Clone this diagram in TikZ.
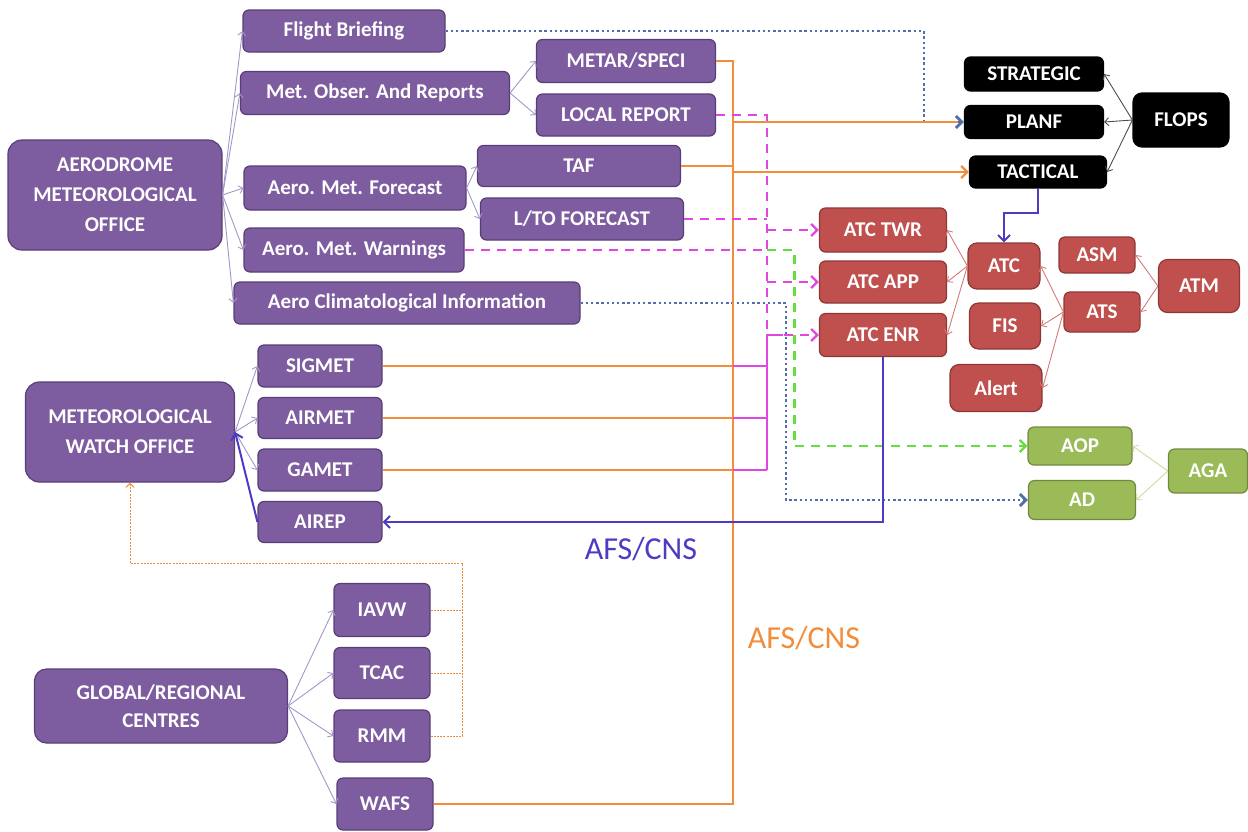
\documentclass[tikz,border=0pt]{standalone}
\usepackage{fontspec}
\setmainfont{Carlito}
\usepackage{tikz}
\usetikzlibrary{arrows.meta}

\definecolor{metfill}{RGB}{126,92,160}
\definecolor{metline}{RGB}{88,62,118}
\definecolor{atcfill}{RGB}{192,80,77}
\definecolor{atcline}{RGB}{140,56,54}
\definecolor{agafill}{RGB}{155,187,89}
\definecolor{agaline}{RGB}{113,137,63}
\definecolor{treecol}{RGB}{165,150,200}
\definecolor{atctree}{RGB}{215,120,120}
\definecolor{agatree}{RGB}{200,220,160}
\definecolor{afscol}{RGB}{240,142,62}
\definecolor{magcol}{RGB}{225,70,225}
\definecolor{grcol}{RGB}{100,222,60}
\definecolor{dotcol}{RGB}{80,110,170}
\definecolor{cnscol}{RGB}{75,60,195}

\begin{document}
\begin{tikzpicture}
      [x=1pt, y=-1pt,
        box/.style={rounded corners=6pt, line width=1.2pt, text=white, align=center,
          inner sep=0pt, font=\fontsize{21}{30}\selectfont\bfseries},
        metbox/.style={box, fill=metfill, draw=metline},
        atcbox/.style={box, fill=atcfill, draw=atcline},
        agabox/.style={box, fill=agafill, draw=agaline},
        flopbox/.style={box, fill=black, draw=black},
        tree/.style={-{Straight Barb[length=4pt,width=8pt]}, line width=0.9pt, draw=treecol},
        atctree/.style={tree, draw=atctree},
        agatree/.style={tree, draw=agatree},
        floptree/.style={tree, draw=black!70},
        afs/.style={draw=afscol, line width=2.4pt},
        afsthin/.style={draw=afscol, line width=1.5pt},
        magline/.style={draw=magcol, line width=1.5pt},
        magdash/.style={draw=magcol, line width=2.4pt, dash pattern=on 9pt off 7pt},
        grdash/.style={draw=grcol, line width=2.4pt, dash pattern=on 9pt off 7pt},
        metdot/.style={draw=dotcol, line width=2.8pt, dash pattern=on 2.4pt off 2.8pt},
        gdot/.style={draw=afscol, line width=1pt, dash pattern=on 2pt off 1.2pt},
        cns/.style={draw=cnscol, line width=2pt},
        tip/.style={-{Straight Barb[length=6pt,width=12pt]}}]
      \useasboundingbox (0,0) rectangle (1248,831);

      \node[metbox, rounded corners=14pt, minimum width=214pt, minimum height=110pt] (amo) at (115,195)
        {AERODROME\\METEOROLOGICAL\\OFFICE};
      \node[metbox, minimum width=202pt, minimum height=42pt] (fb) at (344,31) {Flight Briefing};
      \node[metbox, minimum width=269pt, minimum height=43pt] (obs) at (375,93) {Met. Obser. And Reports};
      \node[metbox, minimum width=179pt, minimum height=43pt] (metar) at (626,61) {METAR/SPECI};
      \node[metbox, minimum width=179pt, minimum height=42pt] (lrep) at (626,115) {LOCAL REPORT};
      \node[metbox, minimum width=222pt, minimum height=44pt] (fcst) at (355,188) {Aero. Met. Forecast};
      \node[metbox, minimum width=203pt, minimum height=41pt] (taf) at (579,166) {TAF};
      \node[metbox, minimum width=203pt, minimum height=42pt] (lto) at (582,219) {L/TO FORECAST};
      \node[metbox, minimum width=220pt, minimum height=44pt] (warn) at (354,250) {Aero. Met. Warnings};
      \node[metbox, minimum width=346pt, minimum height=42pt] (clim) at (407,303) {Aero Climatological Information};

      \node[metbox, rounded corners=14pt, minimum width=209pt, minimum height=100pt] (mwo) at (130,432)
        {METEOROLOGICAL\\WATCH OFFICE};
      \node[metbox, minimum width=124pt, minimum height=42pt] (sigmet) at (320,366) {SIGMET};
      \node[metbox, minimum width=124pt, minimum height=41pt] (airmet) at (320,418) {AIRMET};
      \node[metbox, minimum width=124pt, minimum height=42pt] (gamet) at (320,470) {GAMET};
      \node[metbox, minimum width=124pt, minimum height=41pt] (airep) at (320,522) {AIREP};

      \node[metbox, rounded corners=12pt, minimum width=253pt, minimum height=74pt, font=\fontsize{21}{28}\selectfont\bfseries]
        (grc) at (161,706) {GLOBAL/REGIONAL\\CENTRES};
      \node[metbox, minimum width=96pt, minimum height=53pt] (iavw) at (382,610) {IAVW};
      \node[metbox, minimum width=96pt, minimum height=51pt] (tcac) at (382,673) {TCAC};
      \node[metbox, minimum width=96pt, minimum height=52pt] (rmm) at (382,736) {RMM};
      \node[metbox, minimum width=96pt, minimum height=52pt] (wafs) at (385,804) {WAFS};

      \node[flopbox, minimum width=139pt, minimum height=34pt] (strat) at (1034,74) {STRATEGIC};
      \node[flopbox, minimum width=139pt, minimum height=33pt] (planf) at (1034,122) {PLANF};
      \node[flopbox, minimum width=137pt, minimum height=32pt] (tact) at (1038,172) {TACTICAL};
      \node[flopbox, rounded corners=9pt, minimum width=96pt, minimum height=54pt] (flops) at (1181,120) {FLOPS};

      \node[atcbox, minimum width=127pt, minimum height=44pt] (twr) at (883,230) {ATC TWR};
      \node[atcbox, minimum width=127pt, minimum height=42pt] (app) at (883,282) {ATC APP};
      \node[atcbox, minimum width=127pt, minimum height=43pt] (enr) at (883,335) {ATC ENR};
      \node[atcbox, rounded corners=9pt, minimum width=72pt, minimum height=46pt] (atc) at (1004,266) {ATC};
      \node[atcbox, rounded corners=9pt, minimum width=71pt, minimum height=46pt] (fis) at (1005,326) {FIS};
      \node[atcbox, rounded corners=9pt, minimum width=92pt, minimum height=47pt] (alert) at (996,388) {Alert};
      \node[atcbox, minimum width=76pt, minimum height=36pt] (asm) at (1097,255) {ASM};
      \node[atcbox, minimum width=76pt, minimum height=40pt] (ats) at (1102,312) {ATS};
      \node[atcbox, rounded corners=9pt, minimum width=81pt, minimum height=53pt] (atm) at (1199,286) {ATM};

      \node[agabox, minimum width=104pt, minimum height=38pt] (aop) at (1080,446) {AOP};
      \node[agabox, minimum width=107pt, minimum height=39pt] (ad) at (1082,500) {AD};
      \node[agabox, minimum width=79pt, minimum height=44pt] (aga) at (1208,471) {AGA};

      \node[text=cnscol, font=\fontsize{32}{34}\selectfont] (cnsA) at (641,549) {AFS/CNS};
      \node[text=afscol, font=\fontsize{32}{34}\selectfont] (cnsB) at (804,638) {AFS/CNS};

      \foreach \n in {fb,obs,fcst,warn,clim} \draw[tree] (amo.east) -- (\n.west);
      \foreach \n in {metar,lrep} \draw[tree] (obs.east) -- (\n.west);
      \foreach \n in {taf,lto} \draw[tree] (fcst.east) -- (\n.west);
      \foreach \n in {sigmet,airmet,gamet} \draw[tree] (mwo.east) -- (\n.west);
      \foreach \n in {iavw,tcac,rmm,wafs} \draw[tree] (grc.east) -- (\n.west);
      \foreach \n in {strat,planf,tact} \draw[floptree] (flops.west) -- (\n.east);
      \foreach \n in {twr,app,enr} \draw[atctree] (atc.west) -- (\n.east);
      \foreach \n in {atc,fis,alert} \draw[atctree] (ats.west) -- (\n.east);
      \foreach \n in {asm,ats} \draw[atctree] (atm.west) -- (\n.east);
      \foreach \n in {aop,ad} \draw[agatree] (aga.west) -- (\n.east);

      \coordinate (busN) at ([xshift=17pt]metar.east);
      \coordinate (busS) at (busN |- wafs.east);
      \coordinate (mg) at ([xshift=51pt]lrep.east);
      \coordinate (gx) at ([xshift=32pt]iavw.east);
      \coordinate (gtop) at ([yshift=47pt]gx);

      \draw[metdot, tip] (fb.east) -| ([xshift=-40pt]planf.west) -- (planf.west);
      \draw[metdot, tip] (clim.east) -| ([xshift=-242pt]ad.west) -- (ad.west);

      \draw[afs] (metar.east) -- (busN) -- (busS) -- (wafs.east);
      \draw[afs] (taf.east) -- (busN |- taf.east);
      \draw[afs] (busN |- planf.west) -- ([xshift=-6pt]planf.west);
      \draw[afs, tip] (busN |- tact.west) -- (tact.west);
      \draw[afsthin] (sigmet.east) -- (busN |- sigmet.east);
      \draw[afs] (airmet.east) -- (busN |- airmet.east);
      \draw[afsthin] (gamet.east) -- (busN |- gamet.east);

      \draw[magline] (busN |- sigmet.east) -- (mg |- sigmet.east);
      \draw[magline, line width=2.2pt] (busN |- airmet.east) -- (mg |- airmet.east);
      \draw[magline] (busN |- gamet.east) -- (mg |- gamet.east);
      \draw[magline] (mg |- gamet.east) -- (mg |- enr.west) -- ++(16,0);
      \draw[magdash, tip] (lrep.east) -- (mg) -- (mg |- enr.west) -- (enr.west);
      \draw[magdash, tip] (mg |- twr.west) -- (twr.west);
      \draw[magdash, tip] (mg |- app.west) -- (app.west);
      \draw[magdash] (lto.east) -- (mg |- lto.east);
      \draw[magdash] (warn.east) -- (mg |- warn.east);
      \draw[grdash, tip] (mg |- warn.east) -| ([xshift=-233pt]aop.west) -- (aop.west);

      \draw[cns, tip] (tact.south) -- ++(0,24) -| (atc.north);
      \draw[cns, tip] (enr.south) |- (airep.east);
      \draw[cns, tip] (airep.west) -- (mwo.east);

      \draw[gdot] (iavw.east) -- (gx);
      \draw[gdot] (tcac.east) -- (gx |- tcac.east);
      \draw[gdot] (rmm.east) -- (gx |- rmm.east) -- (gtop);
      \draw[gdot, -{Straight Barb[length=4pt,width=8pt]}] (gtop) -| (mwo.south);
\end{tikzpicture}
\end{document}
